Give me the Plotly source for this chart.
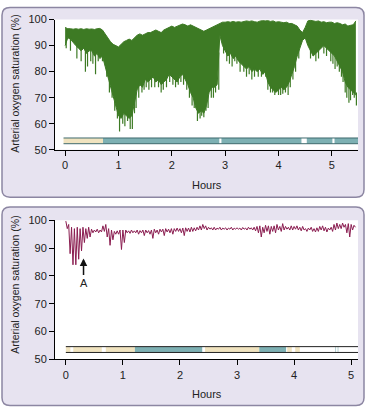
import numpy as np
import plotly.graph_objects as go

W, H = 367, 413

# ---------------- top panel (green) ----------------
top_hours = np.round(np.arange(0, 5.46, 0.05), 2)  # sampling grid, 110 points
top_hi = [97, 96.5, 96.5, 96.3, 96.5, 96.3, 96.5, 96.2, 96.5, 96.3,
          96.4, 96.2, 96.5, 96.6, 96.0, 94.5, 93, 91.5, 90.5, 90,
          89.5, 90.5, 91.5, 92, 92.5, 92, 93, 94, 94.5, 94,
          94.5, 95, 95, 95.5, 96, 95.5, 95, 96, 96.5, 97,
          97.5, 97, 97.5, 98, 98.3, 98, 97.5, 98, 97.5, 97,
          96.5, 96, 95.5, 96, 96.5, 97, 97.5, 98, 98.5, 99,
          99, 99.2, 99, 99.3, 99, 99.2, 99, 99.4, 99.5, 99.3,
          99.5, 99.2, 99, 99.4, 99.6, 99.5, 99.6, 99.3, 99.5, 99,
          99.2, 99, 98.8, 99, 98.5, 98.5, 98, 97.5, 96, 95,
          97, 99.5, 99.7, 99.5, 99.3, 99.5, 99, 99.2, 98.8, 99,
          99, 98.5, 98.8, 98.5, 98, 98.3, 97.5, 97.8, 98, 99.5]
top_lo = [90, 93, 92.5, 91, 90, 89, 88, 89, 87, 88,
          88, 86, 87, 85, 86, 82, 78, 74, 70, 66,
          63, 62, 64, 63, 62, 63, 68, 73, 75, 74,
          77, 76, 77, 78, 76, 77, 75, 76, 77, 79,
          78, 77, 76, 78, 79, 77, 75, 72, 70, 66,
          64, 65, 64, 67, 72, 74, 74, 75, 94, 90,
          88, 86, 87, 85, 86, 84, 83, 82, 81, 82,
          80, 81, 80, 81, 79, 80, 76, 74, 73, 72,
          73, 74, 73, 74, 76, 79, 82, 86, 89, 92,
          93, 90, 88, 86, 87, 88, 89, 90, 89, 88,
          87, 86, 84, 82, 80, 76, 74, 73, 72, 71]
top_spike_t = [0.02, 0.10, 0.22, 0.30, 0.38, 0.42, 0.48, 0.52, 0.57, 0.62,
               0.70, 0.78, 0.83, 0.88, 0.93, 0.98, 1.02, 1.08, 1.12, 1.17,
               1.22, 1.26, 1.30, 1.33, 1.38, 1.44, 1.48, 1.52, 1.57, 1.62,
               1.68, 1.75, 1.80, 1.84, 1.90, 1.96, 2.02, 2.07, 2.12, 2.17,
               2.22, 2.28, 2.33, 2.38, 2.42, 2.48, 2.53, 2.56, 2.60, 2.64,
               2.68, 2.74, 2.78, 2.82, 2.88, 2.97, 3.03, 3.08, 3.13, 3.18,
               3.22, 3.28, 3.35, 3.40, 3.45, 3.50, 3.55, 3.62, 3.68, 3.72,
               3.76, 3.80, 3.85, 3.89, 3.93, 3.97, 4.00, 4.04, 4.08, 4.13,
               4.18, 4.22, 4.27, 4.32, 4.38, 4.60, 4.65, 4.70, 4.75, 4.85,
               4.90, 4.98, 5.02, 5.06, 5.10, 5.14, 5.18, 5.21, 5.25, 5.28,
               5.32, 5.35, 5.39, 5.42, 5.46]
top_spike_v = [89, 88, 85, 84, 80, 82, 84, 83, 79, 84,
               84, 78, 72, 70, 65, 62, 57, 60, 59, 61,
               58, 58, 64, 66, 70, 72, 73, 74, 73, 74,
               74, 74, 72, 73, 74, 76, 75, 74, 75, 76,
               75, 73, 70, 67, 66, 61, 62, 63, 62.5, 65,
               66, 70, 70, 72, 73, 87, 84, 83, 82, 84,
               83, 80, 80, 78, 79, 77, 78, 78, 78, 79,
               78, 73, 72, 72, 71, 72.5, 71, 71, 71.5, 72,
               71, 74, 77, 80, 85, 85, 86, 84, 85, 87,
               86, 84, 83, 81, 82, 80, 78, 76, 72, 70,
               68, 69, 71, 70, 67]

top_stage_start = [-0.03, 0.71, 2.93, 4.53, 5.05]
top_stage_end = [0.71, 2.89, 4.43, 5.01, 5.49]
top_stage = ["light", "deep", "deep", "deep", "deep"]

# ---------------- bottom panel (maroon) ----------------
bot_hours = np.round(np.arange(0, 5.06, 0.05), 2)  # sampling grid, 102 points
bot_hi = [99.7, 98.5, 97.5, 97, 97.5, 97, 97.5, 97, 97.5, 96.8,
          96.5, 96.8, 96.5, 98, 98.5, 97, 96.5, 96, 96.2, 96.5,
          96.5, 96.5, 96.2, 96.5, 96.2, 96.5, 96.3, 96.5, 96.5, 96.3,
          96.5, 96.8, 96.5, 96.8, 96.8, 97, 96.8, 97, 97, 97.2,
          97, 97.2, 97.3, 97.2, 97.5, 97.3, 97.5, 98, 98.5, 98,
          97.5, 97.3, 97.5, 97.2, 97.5, 97.2, 97.3, 97.2, 97.5, 97.2,
          97.3, 97.2, 97.4, 97.2, 97.5, 97.3, 97.5, 97.8, 98, 97.5,
          98.2, 98, 97.8, 98, 98.5, 97.8, 98.8, 97.8, 97.5, 98,
          97.8, 98, 97.5, 97.8, 97, 97.2, 97.5, 97, 97.3, 97.8,
          98, 97.5, 97.2, 97.5, 98.5, 99, 98.5, 99, 98.5, 98.8,
          98.5, 98.2]
bot_lo = [97, 88, 84, 84, 86, 89, 92, 93.5, 94, 95.5,
          95.8, 95.5, 95.8, 96, 94, 91, 93, 95, 95, 89.5,
          92, 95.5, 95.3, 95.5, 95.5, 95, 95.5, 94.5, 95.5, 95,
          93.5, 95.5, 95, 95.8, 94.5, 95.8, 95.5, 95, 96, 96,
          95.5, 94.5, 96, 95.8, 96, 96.2, 96.5, 96.5, 97, 96.5,
          96.8, 96.5, 96.5, 96.8, 96.5, 96.8, 96.5, 96.8, 96.5, 96.8,
          96.8, 96.5, 96.8, 96.5, 96.8, 96.5, 96.2, 95.5, 94, 95.5,
          96, 95, 96, 95.5, 96.5, 96, 96.5, 96.8, 96.5, 96.5,
          96.8, 96.5, 96.2, 96.5, 96, 96.5, 96, 95.8, 96, 96.5,
          96.2, 95.8, 96.5, 96, 96.5, 97, 97, 97.5, 95.5, 94,
          96.5, 97.5]

bot_stage_start = [0.0, 0.13, 0.70, 1.21, 2.44, 3.39, 3.88, 4.02, 4.725, 4.765]
bot_stage_end = [0.08, 0.63, 1.21, 2.39, 3.39, 3.86, 3.96, 4.10, 4.735, 4.775]
bot_stage = ["light", "light", "light", "deep", "light", "deep", "light", "light", "deep", "deep"]

y_ticks = [50, 60, 70, 80, 90, 100]
x_ticks = [0, 1, 2, 3, 4, 5]

GREEN = "#3d7a24"
MAROON = "#8a1d50"
STAGE_COL = {"light": "#f0e3bf", "deep": "#7db0b3"}
PANEL_FILL = "#e7e3f0"
PANEL_LINE = "#8c86a2"
FONT = "Liberation Sans Narrow, Arial Narrow, Liberation Sans, Arial, sans-serif"

fig = go.Figure()

# top traces (xaxis/yaxis)
fig.add_trace(go.Scatter(x=top_hours, y=top_lo, mode="lines",
                         line=dict(color=GREEN, width=1), showlegend=False,
                         hoverinfo="skip", xaxis="x", yaxis="y"))
fig.add_trace(go.Scatter(x=top_hours, y=top_hi, mode="lines", fill="tonexty",
                         fillcolor=GREEN, line=dict(color=GREEN, width=1),
                         showlegend=False, hoverinfo="skip", xaxis="x", yaxis="y"))
sx, sy = [], []
for t, v in zip(top_spike_t, top_spike_v):
    top_end = float(np.interp(t, top_hours, top_lo)) + 1
    sx += [t, t, None]
    sy += [v, top_end, None]
fig.add_trace(go.Scatter(x=sx, y=sy, mode="lines", line=dict(color=GREEN, width=1.2),
                         showlegend=False, hoverinfo="skip", xaxis="x", yaxis="y"))

# bottom trace (xaxis2/yaxis2): zig-zag between highs and lows
bx, by = [], []
for t, hi, lo in zip(bot_hours, bot_hi, bot_lo):
    bx += [t, t + 0.025]
    by += [hi, lo]
fig.add_trace(go.Scatter(x=bx, y=by, mode="lines", line=dict(color=MAROON, width=1.0),
                         showlegend=False, hoverinfo="skip", xaxis="x2", yaxis="y2"))


def px2x(p):
    return p / W


def py2y(p):
    return 1 - p / H


def rrect(x0, y0, x1, y1, r):
    pts = [("M", x0 + r, y0), ("L", x1 - r, y0), ("Q", x1, y0, x1, y0 + r),
           ("L", x1, y1 - r), ("Q", x1, y1, x1 - r, y1), ("L", x0 + r, y1),
           ("Q", x0, y1, x0, y1 - r), ("L", x0, y0 + r), ("Q", x0, y0, x0 + r, y0)]
    s = ""
    for p in pts:
        cmd = p[0]
        coords = p[1:]
        s += cmd + " " + " ".join(
            f"{px2x(coords[i]):.5f},{py2y(coords[i + 1]):.5f}" for i in range(0, len(coords), 2)) + " "
    return s + "Z"


shapes = []
for box in [(2, 1.5, 364, 197), (2, 207, 364, 411.5)]:
    shapes.append(dict(type="path", xref="paper", yref="paper", path=rrect(*box, 8),
                       fillcolor=PANEL_FILL, line=dict(color=PANEL_LINE, width=1.5),
                       layer="below"))
# white plot areas
for (x0, y0, x1, y1) in [(55, 14, 358, 148), (55, 220.7, 358, 364)]:
    shapes.append(dict(type="rect", xref="paper", yref="paper", x0=px2x(x0), x1=px2x(x1),
                       y0=py2y(y1), y1=py2y(y0), fillcolor="white", line=dict(width=0),
                       layer="below"))

# sleep-stage bands
for s0, s1, st in zip(top_stage_start, top_stage_end, top_stage):
    shapes.append(dict(type="rect", xref="x", yref="y", x0=s0, x1=s1, y0=52.3, y1=54.5,
                       fillcolor=STAGE_COL[st], line=dict(width=0)))
for yv in [52.3, 54.5]:
    shapes.append(dict(type="line", xref="x", yref="y", x0=-0.03, x1=5.49, y0=yv, y1=yv,
                       line=dict(color="#3f6a6e", width=1)))
for s0, s1, st in zip(bot_stage_start, bot_stage_end, bot_stage):
    shapes.append(dict(type="rect", xref="x2", yref="y2", x0=s0, x1=s1, y0=52.5, y1=54.6,
                       fillcolor=STAGE_COL[st], line=dict(width=0)))
for yv in [52.5, 54.6]:
    shapes.append(dict(type="line", xref="x2", yref="y2", x0=0.0, x1=5.12, y0=yv, y1=yv,
                       line=dict(color="#222222", width=1)))

axis_common = dict(showline=True, linecolor="black", linewidth=1, ticks="outside",
                   ticklen=5, tickwidth=1, tickcolor="black", showgrid=False,
                   zeroline=False, tickfont=dict(family=FONT, size=11, color="#222"))

fig.update_layout(
    width=W, height=H, margin=dict(l=0, r=0, t=0, b=0),
    paper_bgcolor="white", plot_bgcolor="white",
    xaxis=dict(domain=[px2x(55), px2x(358)], anchor="y", range=[-0.19, 5.49],
               tickvals=x_ticks, **axis_common),
    yaxis=dict(domain=[py2y(148), py2y(14)], anchor="x", range=[50, 100],
               tickvals=y_ticks, **axis_common),
    xaxis2=dict(domain=[px2x(55), px2x(358)], anchor="y2", range=[-0.19, 5.12],
                tickvals=x_ticks, **axis_common),
    yaxis2=dict(domain=[py2y(364), py2y(220.7)], anchor="x2", range=[50, 100],
                tickvals=y_ticks, **axis_common),
    shapes=shapes,
    font=dict(family=FONT, size=11, color="#222"),
)

tf = dict(family=FONT, size=10.5, color="#222")
for yc in [80, 287]:
    fig.add_annotation(x=px2x(15), y=py2y(yc), xref="paper", yref="paper", showarrow=False,
                       xanchor="center", yanchor="middle",
                       text="Arterial oxygen saturation (%)", textangle=-90, font=tf)
hf = dict(family=FONT, size=11, color="#222")
for yc in [184, 400]:
    fig.add_annotation(x=px2x(206.5), y=py2y(yc), xref="paper", yref="paper", showarrow=False,
                       xanchor="center", yanchor="middle", text="Hours", font=hf)
# arrow "A"
fig.add_annotation(x=0.31, y=86.3, ax=0.31, ay=79.8, xref="x2", yref="y2", axref="x2", ayref="y2",
                   showarrow=True, arrowhead=2, arrowsize=1, arrowwidth=1.5, arrowcolor="#111",
                   text="")
fig.add_annotation(x=0.31, y=77.3, xref="x2", yref="y2", showarrow=False, text="A",
                   xanchor="center", yanchor="middle",
                   font=dict(family=FONT, size=11, color="#222"))

fig.write_html("out.html", config={"displayModeBar": False},
               post_script="document.body.style.margin='0';document.body.style.overflow='hidden';")
